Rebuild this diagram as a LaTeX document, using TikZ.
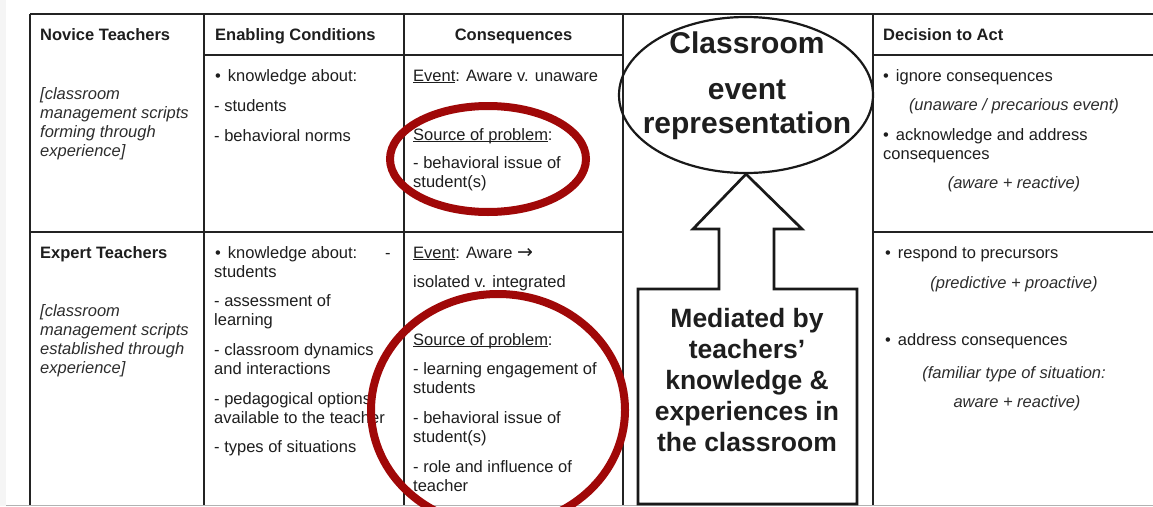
\documentclass[tikz,border=0pt]{standalone}
\usepackage{fontspec}
\setmainfont{Liberation Sans}
\newfontfamily\dejavu{DejaVu Sans}
\usetikzlibrary{shapes.geometric}
\definecolor{ring}{RGB}{160,8,8}
\definecolor{ink}{RGB}{30,30,30}
\definecolor{itink}{RGB}{45,45,45}
\definecolor{rulec}{RGB}{35,35,35}
\newcommand\myul[1]{\setbox0\hbox{#1}\rlap{\rule[-2.2pt]{\wd0}{1pt}}\box0}
\newcommand\bul{•\hspace{7pt}}
\begin{document}
\begin{tikzpicture}[x=1pt,y=-1pt,
  txt/.style={anchor=base west,inner sep=0pt,text=ink,font=\fontsize{16.5}{19}\selectfont},
  bld/.style={txt,font=\fontsize{16.5}{19}\selectfont\bfseries},
  itl/.style={txt,text=itink,font=\fontsize{16.5}{19}\selectfont\itshape},
  itc/.style={itl,anchor=base},
  bigt/.style={anchor=base,inner sep=0pt,text=ink,font=\fontsize{30}{34}\selectfont\bfseries},
  medt/.style={anchor=base,inner sep=0pt,text=ink,font=\fontsize{26.5}{31}\selectfont\bfseries},
  gridline/.style={draw=rulec,line width=1.6pt},
  redring/.style={draw=ring,line width=8pt},
]
\useasboundingbox (0,0) rectangle (1153,506);
\clip (0,0) rectangle (1153,506);
\fill[white] (0,0) rectangle (1153,506);
\fill[black!4] (0,0) rectangle (6,506);
% table grid
\draw[gridline] (30,14) -- (1153,14);
\draw[gridline] (30,14) -- (30,506);
\draw[gridline,line width=2.6pt] (204,14) -- (204,506);
\draw[gridline] (404,14) -- (404,506);
\draw[gridline] (623,14) -- (623,506);
\draw[gridline,line width=2.2pt] (873,14) -- (873,506);
\draw[gridline] (204,55) -- (623,55);
\draw[gridline] (873,55) -- (1153,55);
\draw[gridline] (30,232) -- (623,232);
\draw[gridline] (873,232) -- (1153,232);
\draw[black!30,line width=1pt] (6,505.5) -- (1153,505.5);

% row 1
\node[bld] (nov) at (40,40) {Novice Teachers};
\node[itl] (nov1) at (40,99) {[classroom};
\node[itl] (nov2) at (40,118) {management scripts};
\node[itl] (nov3) at (40,137) {forming through};
\node[itl] (nov4) at (40,156) {experience]};

\node[bld] (enc) at (215,40) {Enabling Conditions};
\node[txt] (ea1) at (215,81) {\bul knowledge about:};
\node[txt] (ea2) at (214,111) {- students};
\node[txt] (ea3) at (214,141) {- behavioral norms};

\node[bld,anchor=base] (con) at (513.5,40) {Consequences};
\node[txt] (ca1) at (413,81) {\myul{Event}: Aware v. unaware};
\node[txt] (ca2) at (413,140) {\myul{Source of problem}:};
\node[txt] (ca3) at (413,168) {- behavioral issue of};
\node[txt] (ca4) at (413,187) {student(s)};

\node[bld] (dec) at (883,40) {Decision to Act};
\node[txt] (da1) at (883,81) {\bul ignore consequences};
\node[itc] (da2) at (1014,110) {(unaware / precarious event)};
\node[txt] (da3) at (883,140) {\bul acknowledge and address};
\node[txt] (da4) at (883,159) {consequences};
\node[itc] (da5) at (1014,188) {(aware + reactive)};

% row 2
\node[bld] (exp) at (40,258) {Expert Teachers};
\node[itl] (exp1) at (40,316) {[classroom};
\node[itl] (exp2) at (40,335) {management scripts};
\node[itl] (exp3) at (40,354) {established through};
\node[itl] (exp4) at (40,373) {experience]};

\node[txt] (eb1) at (215,258) {\bul knowledge about:};
\node[txt] (eb1d) at (385,258) {-};
\node[txt] (eb2) at (214,277) {students};
\node[txt] (eb3) at (214,306) {- assessment of};
\node[txt] (eb4) at (214,325) {learning};
\node[txt] (eb5) at (214,355) {- classroom dynamics};
\node[txt] (eb6) at (214,374) {and interactions};
\node[txt] (eb7) at (214,404) {- pedagogical options};
\node[txt] (eb8) at (214,423) {available to the teacher};
\node[txt] (eb9) at (214,452) {- types of situations};

\node[txt] (cb1) at (413,258) {\myul{Event}: Aware {\dejavu\fontsize{19}{19}\selectfont →}};
\node[txt] (cb2) at (413,287) {isolated v. integrated};
\node[txt] (cb3) at (413,345) {\myul{Source of problem}:};
\node[txt] (cb4) at (413,374) {- learning engagement of};
\node[txt] (cb5) at (413,393) {students};
\node[txt] (cb6) at (413,423) {- behavioral issue of};
\node[txt] (cb7) at (413,442) {student(s)};
\node[txt] (cb8) at (413,472) {- role and influence of};
\node[txt] (cb9) at (413,491) {teacher};

\node[txt] (db1) at (885,258) {\bul respond to precursors};
\node[itc] (db2) at (1014,288) {(predictive + proactive)};
\node[txt] (db3) at (885,345) {\bul address consequences};
\node[itc] (db4) at (1014,378) {(familiar type of situation:};
\node[itc] (db5) at (1017,407) {aware + reactive)};

% middle column: ellipse and arrow
\node[draw=black!90,ellipse,line width=2.2pt,minimum width=254pt,minimum height=156pt,inner sep=0pt] (ell) at (746,95) {};
\node[bigt] (el1) at (747,53) {Classroom};
\node[bigt] (el2) at (747,99) {event};
\node[bigt] (el3) at (747,133) {representation};

\draw[draw=black!90,fill=white,line width=2.7pt,line join=miter]
  (638,504) -- (638,289) -- (719,289) -- (719,229) -- (693,229) -- (ell.south)
  -- (802,229) -- (774,229) -- (774,289) -- (857,289) -- (857,504) -- cycle;
\node[medt] (m1) at (747,327) {Mediated by};
\node[medt] (m2) at (747,358) {teachers’};
\node[medt] (m3) at (747,389) {knowledge \&};
\node[medt] (m4) at (747,420) {experiences in};
\node[medt] (m5) at (747,451) {the classroom};

% red rings
\draw[redring] (488,159) ellipse [x radius=98, y radius=53];
\draw[redring] (498,410) ellipse [x radius=127, y radius=116];
\end{tikzpicture}
\end{document}
